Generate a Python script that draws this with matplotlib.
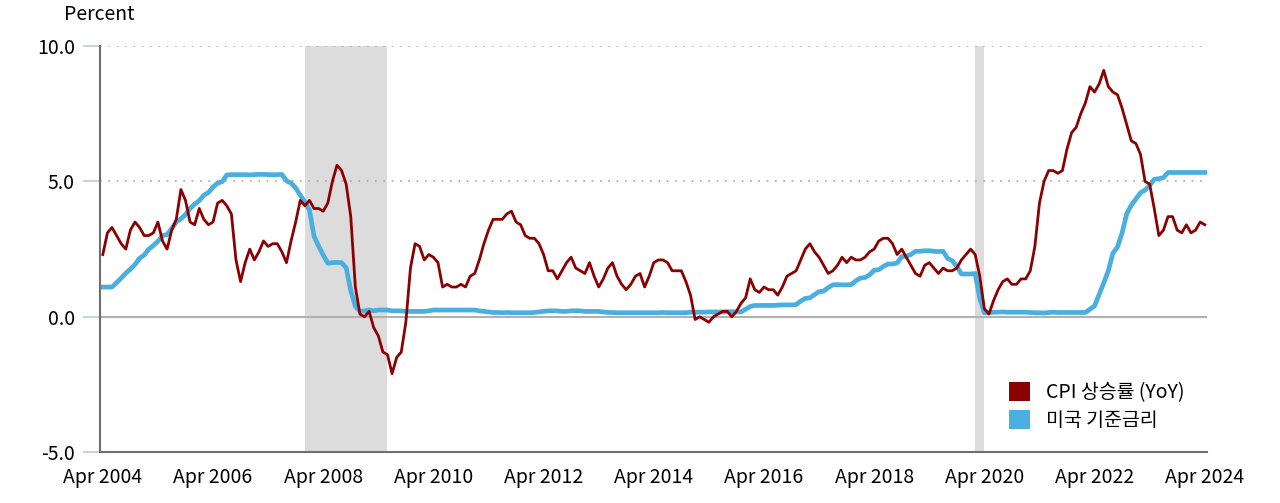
import matplotlib
matplotlib.use("Agg")
import matplotlib.pyplot as plt
from matplotlib.patches import Patch
import numpy as np

plt.rcParams['font.family'] = ['Noto Sans CJK KR', 'DejaVu Sans']
plt.rcParams['axes.unicode_minus'] = False

# monthly data, Apr 2004 .. Apr 2024
cpi_yoy = [
    2.3, 3.1, 3.3, 3.0, 2.7, 2.5, 3.2, 3.5, 3.3,                          # 2004 Apr-Dec
    3.0, 3.0, 3.1, 3.5, 2.8, 2.5, 3.2, 3.6, 4.7, 4.3, 3.5, 3.4,           # 2005
    4.0, 3.6, 3.4, 3.5, 4.2, 4.3, 4.1, 3.8, 2.1, 1.3, 2.0, 2.5,           # 2006
    2.1, 2.4, 2.8, 2.6, 2.7, 2.7, 2.4, 2.0, 2.8, 3.5, 4.3, 4.1,           # 2007
    4.3, 4.0, 4.0, 3.9, 4.2, 5.0, 5.6, 5.4, 4.9, 3.7, 1.1, 0.1,           # 2008
    0.0, 0.2, -0.4, -0.7, -1.3, -1.4, -2.1, -1.5, -1.3, -0.2, 1.8, 2.7,   # 2009
    2.6, 2.1, 2.3, 2.2, 2.0, 1.1, 1.2, 1.1, 1.1, 1.2, 1.1, 1.5,           # 2010
    1.6, 2.1, 2.7, 3.2, 3.6, 3.6, 3.6, 3.8, 3.9, 3.5, 3.4, 3.0,           # 2011
    2.9, 2.9, 2.7, 2.3, 1.7, 1.7, 1.4, 1.7, 2.0, 2.2, 1.8, 1.7,           # 2012
    1.6, 2.0, 1.5, 1.1, 1.4, 1.8, 2.0, 1.5, 1.2, 1.0, 1.2, 1.5,           # 2013
    1.6, 1.1, 1.5, 2.0, 2.1, 2.1, 2.0, 1.7, 1.7, 1.7, 1.3, 0.8,           # 2014
    -0.1, 0.0, -0.1, -0.2, 0.0, 0.1, 0.2, 0.2, 0.0, 0.2, 0.5, 0.7,        # 2015
    1.4, 1.0, 0.9, 1.1, 1.0, 1.0, 0.8, 1.1, 1.5, 1.6, 1.7, 2.1,           # 2016
    2.5, 2.7, 2.4, 2.2, 1.9, 1.6, 1.7, 1.9, 2.2, 2.0, 2.2, 2.1,           # 2017
    2.1, 2.2, 2.4, 2.5, 2.8, 2.9, 2.9, 2.7, 2.3, 2.5, 2.2, 1.9,           # 2018
    1.6, 1.5, 1.9, 2.0, 1.8, 1.6, 1.8, 1.7, 1.7, 1.8, 2.1, 2.3,           # 2019
    2.5, 2.3, 1.5, 0.3, 0.1, 0.6, 1.0, 1.3, 1.4, 1.2, 1.2, 1.4,           # 2020
    1.4, 1.7, 2.6, 4.2, 5.0, 5.4, 5.4, 5.3, 5.4, 6.2, 6.8, 7.0,           # 2021
    7.5, 7.9, 8.5, 8.3, 8.6, 9.1, 8.5, 8.3, 8.2, 7.7, 7.1, 6.5,           # 2022
    6.4, 6.0, 5.0, 4.9, 4.0, 3.0, 3.2, 3.7, 3.7, 3.2, 3.1, 3.4,           # 2023
    3.1, 3.2, 3.5, 3.4,                                                   # 2024 Jan-Apr
]

fed_rate = [
    1.10, 1.10, 1.10, 1.26, 1.43, 1.61, 1.76, 1.93, 2.16,
    2.28, 2.50, 2.63, 2.79, 3.00, 3.04, 3.26, 3.50, 3.62, 3.78, 4.00, 4.16,
    4.29, 4.49, 4.59, 4.79, 4.94, 4.99, 5.24, 5.25, 5.25, 5.25, 5.25, 5.24,
    5.25, 5.26, 5.26, 5.25, 5.25, 5.25, 5.26, 5.02, 4.94, 4.76, 4.49, 4.24,
    3.94, 2.98, 2.61, 2.28, 1.98, 2.00, 2.01, 2.00, 1.81, 0.97, 0.39, 0.20,
    0.22, 0.25, 0.22, 0.25, 0.25, 0.25, 0.22, 0.22, 0.22, 0.20, 0.20, 0.20,
    0.20, 0.20, 0.22, 0.25, 0.25, 0.25, 0.25, 0.25, 0.25, 0.25, 0.25, 0.25,
    0.25, 0.22, 0.20, 0.18, 0.16, 0.16, 0.15, 0.16, 0.15, 0.15, 0.15, 0.15,
    0.15, 0.16, 0.18, 0.20, 0.22, 0.22, 0.22, 0.20, 0.20, 0.22, 0.22, 0.22,
    0.20, 0.20, 0.20, 0.20, 0.18, 0.16, 0.16, 0.15, 0.15, 0.15, 0.15, 0.15,
    0.15, 0.15, 0.15, 0.15, 0.15, 0.16, 0.15, 0.15, 0.15, 0.15, 0.15, 0.17,
    0.17, 0.17, 0.17, 0.18, 0.18, 0.18, 0.18, 0.19, 0.19, 0.18, 0.18, 0.28,
    0.38, 0.42, 0.42, 0.42, 0.42, 0.42, 0.43, 0.44, 0.44, 0.44, 0.45, 0.58,
    0.68, 0.70, 0.82, 0.93, 0.95, 1.08, 1.18, 1.19, 1.18, 1.18, 1.19, 1.33,
    1.43, 1.45, 1.55, 1.72, 1.74, 1.86, 1.95, 1.95, 1.99, 2.22, 2.24, 2.30,
    2.42, 2.42, 2.44, 2.44, 2.42, 2.41, 2.42, 2.16, 2.07, 1.86, 1.58, 1.58,
    1.58, 1.60, 0.68, 0.15, 0.15, 0.17, 0.17, 0.18, 0.17, 0.17, 0.17, 0.17,
    0.17, 0.16, 0.15, 0.15, 0.14, 0.16, 0.17, 0.16, 0.16, 0.16, 0.16, 0.16,
    0.16, 0.16, 0.28, 0.40, 0.82, 1.25, 1.70, 2.35, 2.58, 3.10, 3.80, 4.12,
    4.35, 4.58, 4.68, 4.85, 5.08, 5.10, 5.14, 5.33, 5.33, 5.33, 5.33, 5.33,
    5.33, 5.33, 5.33, 5.33,
]

# recession periods as month offsets from Apr 2004
recessions = [(44, 62), (190, 192)]   # Dec 2007-Jun 2009, Feb 2020-Apr 2020

x_tick_labels = ['Apr %d' % y for y in range(2004, 2025, 2)]
y_ticks = [-5.0, 0.0, 5.0, 10.0]

months = np.arange(len(cpi_yoy))

fig = plt.figure(figsize=(12.8, 5.03), dpi=100)
ax = fig.add_axes([0.078, 0.101, 0.865, 0.8075])

for start, end in recessions:
    ax.axvspan(start, end, color='#dcdcdc', lw=0, zorder=0)

ax.axhline(10, color='#a6a6a6', ls=(0, (1, 4)), lw=1.2, zorder=1)
ax.axhline(5, color='#a6a6a6', ls=(0, (1, 4)), lw=1.2, zorder=1)
ax.axhline(0, color='#b0b0b0', lw=1.5, zorder=1)

ax.plot(months, cpi_yoy, color='#8b0000', lw=2.0, zorder=3)
ax.plot(months, fed_rate, color='#4aafe0', lw=3.4, zorder=2)

ax.set_xlim(-0.65, 240.5)
ax.set_ylim(-5, 10)
ax.set_xticks(np.arange(0, 241, 24))
ax.set_xticklabels(x_tick_labels, fontsize=14)
ax.set_yticks(y_ticks)
ax.set_yticklabels(['%.1f' % v for v in y_ticks], fontsize=14)
ax.tick_params(axis='x', length=0, pad=11)
ax.tick_params(axis='y', length=12, width=1.2, color='#b8cce4', pad=6)

for s in ['top', 'right']:
    ax.spines[s].set_visible(False)
for s in ['left', 'bottom']:
    ax.spines[s].set_color('#6e6e6e')
    ax.spines[s].set_linewidth(1.5)

fig.text(0.050, 0.972, 'Percent', fontsize=14, va='center', ha='left')

handles = [Patch(facecolor='#8b0000', label='CPI 상승률 (YoY)'),
           Patch(facecolor='#4aafe0', label='미국 기준금리')]
ax.legend(handles=handles, loc='upper left', bbox_to_anchor=(0.805, 0.215),
          frameon=False, fontsize=14, handlelength=1.1, handleheight=1.1,
          handletextpad=0.8, labelspacing=0.35)

fig.savefig('out.png', dpi=100)
